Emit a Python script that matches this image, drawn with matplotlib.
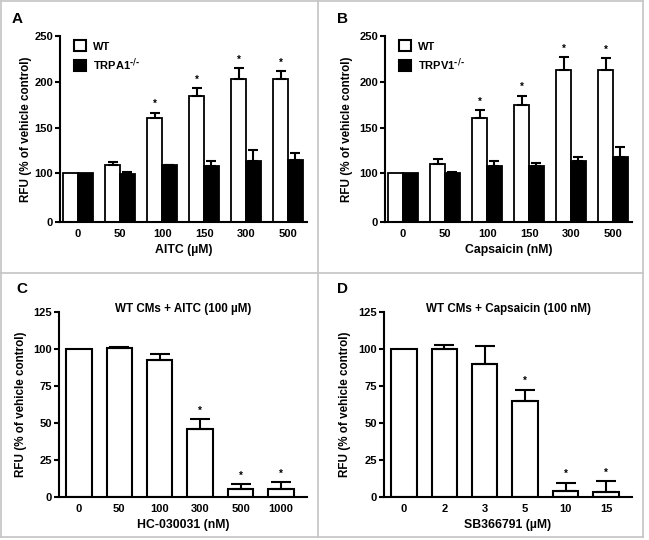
import numpy as np
import matplotlib
matplotlib.use("Agg")
import matplotlib.pyplot as plt
from matplotlib.patches import Patch
from matplotlib.lines import Line2D

plt.rcParams['font.family'] = ['Liberation Sans', 'DejaVu Sans']
plt.rcParams['font.weight'] = 'bold'
plt.rcParams['mathtext.default'] = 'bf'

# ---------------- data ----------------
a_cats = ["0", "50", "100", "150", "300", "500"]
a_wt = [100, 109, 160.5, 184, 203, 203]
a_wt_err = [0, 4, 6, 9, 12, 9]
a_ko = [101, 98.5, 109, 108, 114, 115]
a_ko_err = [0, 3, 0.6, 6, 12, 7]
a_sig = [False, False, True, True, True, True]

b_cats = ["0", "50", "100", "150", "300", "500"]
b_wt = [100, 110, 160, 175, 213, 213]
b_wt_err = [0, 5.5, 9, 10, 14, 12.5]
b_ko = [100, 100.5, 108, 108, 113.5, 118]
b_ko_err = [0, 1.5, 5.5, 3, 4.5, 11]
b_sig = [False, False, True, True, True, True]

c_cats = ["0", "50", "100", "300", "500", "1000"]
c_vals = [100, 100.5, 92.5, 46, 5.7, 5.7]
c_err = [0, 1, 4.3, 6.6, 3, 4.3]
c_sig = [False, False, False, True, True, True]

d_cats = ["0", "2", "3", "5", "10", "15"]
d_vals = [100, 100.3, 90.2, 64.6, 3.8, 3.4]
d_err = [0, 2.7, 11.8, 8, 5.9, 7.5]
d_sig = [False, False, False, True, True, True]

W, H = 649, 540
fig = plt.figure(figsize=(W / 100, H / 100), dpi=100)
fig.patch.set_facecolor('white')


def axrect(x0, x1, y0, y1):
    return [x0 / W, 1 - y1 / H, (x1 - x0) / W, (y1 - y0) / H]


def fwd(y):
    y = np.asarray(y, dtype=float)
    return np.where(y <= 100, y * 0.53, 53 + (y - 100))


def inv(z):
    z = np.asarray(z, dtype=float)
    return np.where(z <= 53, z / 0.53, z - 53 + 100)


TICK_FS = 8
LAB_FS = 8.4
XLAB_FS = 8.8
LW = 1.5


def style(ax, ylab_x):
    for s in ['top', 'right']:
        ax.spines[s].set_visible(False)
    for s in ['left', 'bottom']:
        ax.spines[s].set_linewidth(LW)
    ax.tick_params(axis='y', direction='out', length=3.5, width=LW, labelsize=TICK_FS, pad=1.5)
    ax.tick_params(axis='x', length=0, labelsize=TICK_FS, pad=5)
    for t in ax.get_xticklabels() + ax.get_yticklabels():
        t.set_fontweight('bold')
    ax.yaxis.set_label_coords(ylab_x, 0.5)


def star(ax, x, y):
    ax.annotate('*', xy=(x, y), xytext=(0, 2.5), textcoords='offset points',
                ha='center', va='bottom', fontsize=7, fontweight='bold')


def grouped(ax, cats, wt, wt_err, ko, ko_err, sig, xlabel, kolab):
    x = np.arange(len(cats))
    w = 0.35
    ax.set_yscale('function', functions=(fwd, inv))
    ax.bar(x - w / 2, wt, w, color='white', edgecolor='black', linewidth=1.3, zorder=2)
    ax.bar(x + w / 2, ko, w, color='black', edgecolor='black', linewidth=1.3, zorder=2)
    for xi, v, e in zip(x - w / 2, wt, wt_err):
        if e > 0:
            ax.errorbar(xi, v, yerr=[[0], [e]], fmt='none', ecolor='black',
                        elinewidth=1.5, capsize=3.4, capthick=1.5, zorder=3)
    for xi, v, e in zip(x + w / 2, ko, ko_err):
        if e > 0:
            ax.errorbar(xi, v, yerr=[[0], [e]], fmt='none', ecolor='black',
                        elinewidth=1.5, capsize=3.4, capthick=1.5, zorder=3)
    for xi, v, e, s in zip(x - w / 2, wt, wt_err, sig):
        if s:
            star(ax, xi, v + e)
    ax.set_ylim(0, 250)
    ax.set_yticks([0, 100, 150, 200, 250])
    ax.set_yticklabels(['0', '100', '150', '200', '250'])
    ax.set_xlim(-0.43, len(cats) - 0.55)
    ax.set_xticks(x)
    ax.set_xticklabels(cats)
    ax.set_xlabel(xlabel, fontsize=XLAB_FS, fontweight='bold', labelpad=3.5)
    ax.set_ylabel('RFU (% of vehicle control)', fontsize=LAB_FS, fontweight='bold', va='center')
    handles = [Patch(facecolor='white', edgecolor='black', linewidth=1.5),
               Patch(facecolor='black', edgecolor='black', linewidth=1.5)]
    ax.legend(handles, ['WT', kolab], loc='upper left', bbox_to_anchor=(0.015, 1.03),
              frameon=False, handlelength=1.1, handleheight=1.1, handletextpad=0.6,
              labelspacing=0.4, prop={'size': 8, 'weight': 'bold'})


def single(ax, cats, vals, err, sig, xlabel, title):
    x = np.arange(len(cats))
    ax.bar(x, vals, 0.63, color='white', edgecolor='black', linewidth=1.5, zorder=2)
    for xi, v, e in zip(x, vals, err):
        if e > 0:
            ax.errorbar(xi, v, yerr=[[0], [e]], fmt='none', ecolor='black',
                        elinewidth=1.5, capsize=7, capthick=1.5, zorder=3)
    for xi, v, e, s in zip(x, vals, err, sig):
        if s:
            star(ax, xi, v + e)
    ax.set_ylim(0, 125)
    ax.set_yticks([0, 25, 50, 75, 100, 125])
    ax.set_xlim(-0.49, len(cats) - 0.36)
    ax.set_xticks(x)
    ax.set_xticklabels(cats)
    ax.set_xlabel(xlabel, fontsize=XLAB_FS, fontweight='bold', labelpad=3.5)
    ax.set_ylabel('RFU (% of vehicle control)', fontsize=LAB_FS, fontweight='bold', va='center')
    ax.text(0.5, 1.015, title, transform=ax.transAxes, ha='center', va='center',
            fontsize=LAB_FS, fontweight='bold')


axA = fig.add_axes(axrect(60, 307, 36, 222))
grouped(axA, a_cats, a_wt, a_wt_err, a_ko, a_ko_err, a_sig, 'AITC (µM)', r'TRPA1$^{\text{-/-}}$')
style(axA, -0.138)

axB = fig.add_axes(axrect(385, 632, 36, 222))
grouped(axB, b_cats, b_wt, b_wt_err, b_ko, b_ko_err, b_sig, 'Capsaicin (nM)', r'TRPV1$^{\text{-/-}}$')
style(axB, -0.152)

axC = fig.add_axes(axrect(59, 307, 312, 497))
single(axC, c_cats, c_vals, c_err, c_sig, 'HC-030031 (nM)', 'WT CMs + AITC (100 µM)')
style(axC, -0.153)

axD = fig.add_axes(axrect(384, 632, 312, 497))
single(axD, d_cats, d_vals, d_err, d_sig, 'SB366791 (µM)', 'WT CMs + Capsaicin (100 nM)')
style(axD, -0.156)

# panel letters
for lab, px, py in [('A', 17, 19), ('B', 342, 19), ('C', 22, 289), ('D', 342, 289)]:
    fig.text(px / W, 1 - py / H, lab, ha='center', va='center', fontsize=11, fontweight='bold')

# frame lines
gray = '#c4c4c4'
def fline(x0, y0, x1, y1):
    fig.add_artist(Line2D([x0 / W, x1 / W], [1 - y0 / H, 1 - y1 / H],
                          transform=fig.transFigure, color=gray, lw=1.2))

fline(1, 1, 643, 1)
fline(1, 537, 643, 537)
fline(1, 1, 1, 537)
fline(643, 1, 643, 537)
fline(318, 1, 318, 537)
fline(1, 273, 643, 273)

fig.savefig('out.png', dpi=100, facecolor='white')
